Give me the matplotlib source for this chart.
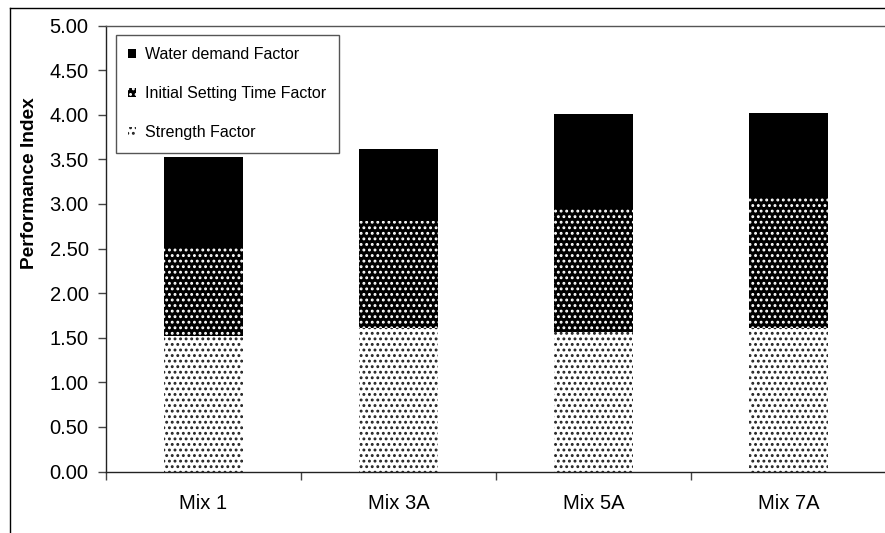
import matplotlib
matplotlib.use("Agg")
import matplotlib.pyplot as plt
from matplotlib.lines import Line2D
from matplotlib.ticker import FormatStrFormatter, FixedLocator
import numpy as np

plt.rcParams['font.family'] = ['Liberation Sans', 'DejaVu Sans']
plt.rcParams['hatch.linewidth'] = 1.3

categories = ["Mix 1", "Mix 3A", "Mix 5A", "Mix 7A"]
strength = [1.52, 1.61, 1.56, 1.61]
setting_time = [0.99, 1.20, 1.39, 1.46]
water_demand = [1.02, 0.80, 1.06, 0.95]
series_names = ["Strength Factor", "Initial Setting Time Factor", "Water demand Factor"]
y_ticks = [0.0, 0.5, 1.0, 1.5, 2.0, 2.5, 3.0, 3.5, 4.0, 4.5, 5.0]

W, H = 885, 533
fig = plt.figure(figsize=(W / 100, H / 100), dpi=100)
ax = fig.add_axes([106 / W, 1 - 471.5 / H, 780 / W, (471.5 - 25.5) / H])

x = np.arange(len(categories))
bw = 0.405
s_arr = np.array(strength)
t_arr = np.array(setting_time)
w_arr = np.array(water_demand)

b1 = ax.bar(x, s_arr, bw, facecolor='white', edgecolor='#222222', hatch='...',
            linewidth=0, label=series_names[0], zorder=2)
b2 = ax.bar(x, t_arr, bw, bottom=s_arr, facecolor='black', edgecolor='white', hatch='...',
            linewidth=0, label=series_names[1], zorder=2)
b3 = ax.bar(x, w_arr, bw, bottom=s_arr + t_arr, facecolor='black', edgecolor='black',
            linewidth=0, label=series_names[2], zorder=2)

ax.set_xlim(-0.5, len(categories) - 0.5)
ax.set_ylim(0, 5)
ax.set_yticks(y_ticks)
ax.yaxis.set_major_formatter(FormatStrFormatter('%.2f'))
ax.set_xticks(x)
ax.set_xticklabels(categories)
ax.xaxis.set_minor_locator(FixedLocator(np.arange(len(categories) + 1) - 0.5))

ax.tick_params(axis='y', which='major', direction='out', length=6, width=1,
               color='#444444', labelsize=14.5, pad=6.5, labelcolor='black')
ax.tick_params(axis='x', which='major', length=0, labelsize=14.5, pad=16.5, labelcolor='black')
ax.tick_params(axis='x', which='minor', direction='out', length=6, width=1, color='#444444')

for side in ['left', 'bottom', 'top']:
    ax.spines[side].set_color('#222222')
    ax.spines[side].set_linewidth(1)
ax.spines['top'].set_color('#555555')
ax.spines['right'].set_visible(False)

ax.set_ylabel("Performance Index", fontsize=13.8, fontweight='bold')
ax.yaxis.set_label_coords((38.5 - 106) / 780, 0.647)

leg = ax.legend(handles=[b3, b2, b1], labels=[series_names[2], series_names[1], series_names[0]],
                loc='upper left', bbox_to_anchor=((116 - 106) / 780, (471.5 - 35) / 446),
                borderaxespad=0, fontsize=11.5, frameon=True, fancybox=False,
                edgecolor='#555555', framealpha=1, handlelength=0.5, handleheight=0.5,
                handletextpad=0.55, labelspacing=1.5, borderpad=0.78)
leg.get_frame().set_linewidth(1)

# outer chart-area border
fig.add_artist(Line2D([9.5 / W, 9.5 / W], [0, 1 - 8 / H], transform=fig.transFigure,
                      color='black', lw=1))
fig.add_artist(Line2D([9.5 / W, 1], [1 - 8 / H, 1 - 8 / H], transform=fig.transFigure,
                      color='black', lw=1))

fig.savefig("out.png", dpi=100)
